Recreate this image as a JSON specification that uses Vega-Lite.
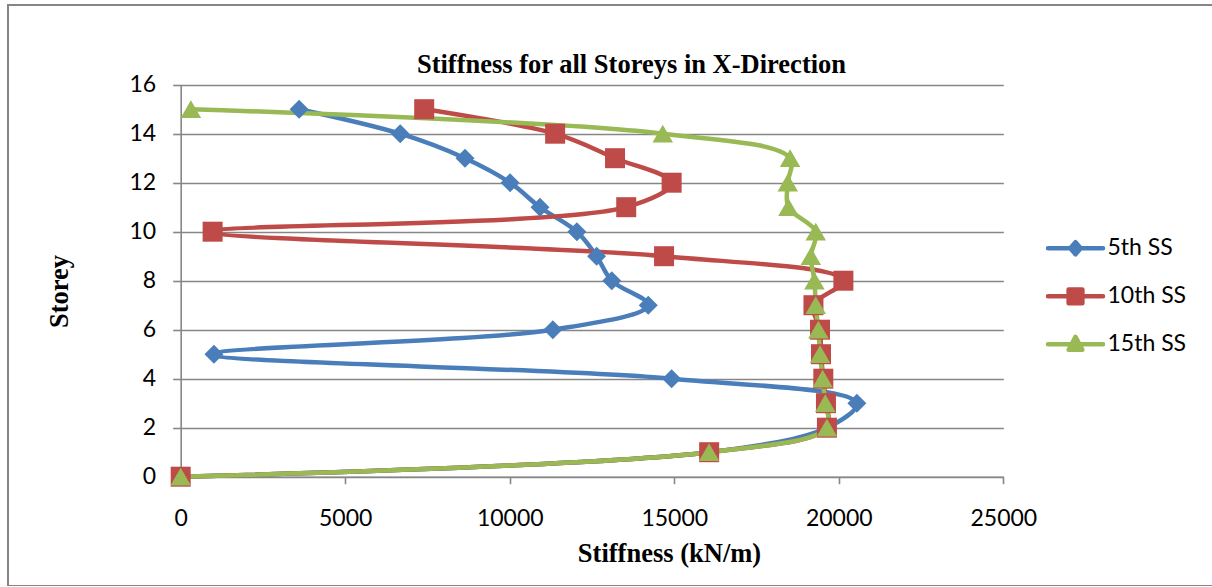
{
  "$schema": "https://vega.github.io/schema/vega-lite/v6.json",
  "width": 1205,
  "height": 581,
  "autosize": "none",
  "padding": {"left": 8, "top": 5, "right": 0, "bottom": 0},
  "background": "white",
  "config": {
    "view": {"stroke": "#868686", "strokeWidth": 2}
  },
  "title": {
    "text": "Stiffness for all Storeys in X-Direction",
    "font": "Liberation Serif",
    "fontSize": 26.5,
    "fontWeight": "bold",
    "color": "black",
    "anchor": "middle",
    "baseline": "alphabetic",
    "offset": -94,
    "dx": 21
  },
  "data": {
    "values": [
      {"series": "5th SS", "storey": 0, "stiffness": 0},
      {"series": "5th SS", "storey": 1, "stiffness": 16060},
      {"series": "5th SS", "storey": 2, "stiffness": 19640},
      {"series": "5th SS", "storey": 3, "stiffness": 20550},
      {"series": "5th SS", "storey": 4, "stiffness": 14920},
      {"series": "5th SS", "storey": 5, "stiffness": 1010},
      {"series": "5th SS", "storey": 6, "stiffness": 11310},
      {"series": "5th SS", "storey": 7, "stiffness": 14210},
      {"series": "5th SS", "storey": 8, "stiffness": 13100},
      {"series": "5th SS", "storey": 9, "stiffness": 12640},
      {"series": "5th SS", "storey": 10, "stiffness": 12040},
      {"series": "5th SS", "storey": 11, "stiffness": 10920},
      {"series": "5th SS", "storey": 12, "stiffness": 10010},
      {"series": "5th SS", "storey": 13, "stiffness": 8640},
      {"series": "5th SS", "storey": 14, "stiffness": 6670},
      {"series": "5th SS", "storey": 15, "stiffness": 3600},
      {"series": "10th SS", "storey": 0, "stiffness": 0},
      {"series": "10th SS", "storey": 1, "stiffness": 16060},
      {"series": "10th SS", "storey": 2, "stiffness": 19640},
      {"series": "10th SS", "storey": 3, "stiffness": 19610},
      {"series": "10th SS", "storey": 4, "stiffness": 19530},
      {"series": "10th SS", "storey": 5, "stiffness": 19460},
      {"series": "10th SS", "storey": 6, "stiffness": 19430},
      {"series": "10th SS", "storey": 7, "stiffness": 19230},
      {"series": "10th SS", "storey": 8, "stiffness": 20140},
      {"series": "10th SS", "storey": 9, "stiffness": 14690},
      {"series": "10th SS", "storey": 10, "stiffness": 970},
      {"series": "10th SS", "storey": 11, "stiffness": 13540},
      {"series": "10th SS", "storey": 12, "stiffness": 14920},
      {"series": "10th SS", "storey": 13, "stiffness": 13200},
      {"series": "10th SS", "storey": 14, "stiffness": 11380},
      {"series": "10th SS", "storey": 15, "stiffness": 7400},
      {"series": "15th SS", "storey": 0, "stiffness": 0},
      {"series": "15th SS", "storey": 1, "stiffness": 16060},
      {"series": "15th SS", "storey": 2, "stiffness": 19640},
      {"series": "15th SS", "storey": 3, "stiffness": 19590},
      {"series": "15th SS", "storey": 4, "stiffness": 19510},
      {"series": "15th SS", "storey": 5, "stiffness": 19430},
      {"series": "15th SS", "storey": 6, "stiffness": 19380},
      {"series": "15th SS", "storey": 7, "stiffness": 19300},
      {"series": "15th SS", "storey": 8, "stiffness": 19260},
      {"series": "15th SS", "storey": 9, "stiffness": 19150},
      {"series": "15th SS", "storey": 10, "stiffness": 19300},
      {"series": "15th SS", "storey": 11, "stiffness": 18470},
      {"series": "15th SS", "storey": 12, "stiffness": 18450},
      {"series": "15th SS", "storey": 13, "stiffness": 18520},
      {"series": "15th SS", "storey": 14, "stiffness": 14650},
      {"series": "15th SS", "storey": 15, "stiffness": 310}
    ]
  },
  "encoding": {
    "x": {
      "field": "stiffness",
      "type": "quantitative",
      "scale": {"domain": [0, 25000], "range": [172.7, 995.3], "nice": false},
      "axis": {
        "values": [0, 5000, 10000, 15000, 20000, 25000],
        "format": "d",
        "grid": false,
        "offset": -109.3,
        "domainColor": "#868686",
        "domainWidth": 1.6,
        "tickColor": "#868686",
        "tickWidth": 1.6,
        "tickSize": 7,
        "labelFont": "Lato",
        "labelFontSize": 23,
        "labelColor": "black",
        "labelPadding": 24,
        "labelOverlap": false,
        "labelFlush": false,
        "title": "Stiffness (kN/m)",
        "titleFont": "Liberation Serif",
        "titleFontSize": 26.5,
        "titleFontWeight": "bold",
        "titleColor": "black",
        "titleX": 661,
        "titleY": 85,
        "titleAlign": "center",
        "titleBaseline": "alphabetic"
      }
    },
    "y": {
      "field": "storey",
      "type": "quantitative",
      "scale": {"domain": [0, 16], "range": [471.7, 79.7], "nice": false},
      "axis": {
        "values": [0, 2, 4, 6, 8, 10, 12, 14, 16],
        "grid": true,
        "gridColor": "#868686",
        "gridWidth": 1.6,
        "offset": -172.7,
        "domainColor": "#868686",
        "domainWidth": 1.6,
        "tickColor": "#868686",
        "tickWidth": 1.6,
        "tickSize": 8,
        "labelFont": "Lato",
        "labelFontSize": 23,
        "labelColor": "black",
        "labelPadding": 17,
        "labelOverlap": false,
        "labelFlush": false,
        "title": "Storey",
        "titleFont": "Liberation Serif",
        "titleFontSize": 26.5,
        "titleFontWeight": "bold",
        "titleColor": "black",
        "titleAngle": -90,
        "titleX": -113.7,
        "titleY": 286,
        "titleAlign": "center",
        "titleBaseline": "alphabetic"
      }
    }
  },
  "layer": [
    {
      "mark": {
        "type": "line",
        "interpolate": "catmull-rom",
        "strokeWidth": 4.5,
        "strokeCap": "round",
        "strokeJoin": "round"
      },
      "encoding": {
        "order": {"field": "storey", "type": "quantitative"},
        "color": {
          "field": "series",
          "type": "nominal",
          "scale": {
            "domain": ["5th SS", "10th SS", "15th SS"],
            "range": ["#4A7EBB", "#BE4B48", "#98B954"]
          },
          "legend": {
            "title": null,
            "orient": "none",
            "legendX": 1037.5,
            "legendY": 219.3,
            "padding": 0,
            "offset": 0,
            "symbolSize": 3025,
            "symbolStrokeWidth": 4.5,
            "clipHeight": 48,
            "rowPadding": 0,
            "labelFont": "Lato",
            "labelFontSize": 23,
            "labelColor": "black",
            "labelOffset": 2,
            "labelBaseline": "middle",
            "encode": {
              "symbols": {
                "update": {
                  "shape": {"signal": "datum.value === '5th SS' ? 'M-1,0H1M0,-0.22L0.19,0L0,0.22L-0.19,0Z' : datum.value === '10th SS' ? 'M-1,0H1M-0.25,-0.25H0.25V0.25H-0.25Z' : 'M-1,0H1M0,-0.27L0.25,0.2L-0.25,0.2Z'"},
                  "size": {"value": 3025},
                  "fill": {"signal": "datum.value === '5th SS' ? '#4A7EBB' : datum.value === '10th SS' ? '#BE4B48' : '#98B954'"},
                  "stroke": {"signal": "datum.value === '5th SS' ? '#4A7EBB' : datum.value === '10th SS' ? '#BE4B48' : '#98B954'"},
                  "strokeWidth": {"value": 4.5},
                  "strokeCap": {"value": "round"},
                  "strokeJoin": {"value": "round"},
                  "opacity": {"value": 1},
                  "fillOpacity": {"value": 1}
                }
              }
            }
          }
        }
      }
    },
    {
      "transform": [{"filter": {"field": "series", "equal": "5th SS"}}],
      "mark": {"type": "point", "shape": "diamond", "filled": true, "opacity": 1, "size": 360, "color": "#4A7EBB"}
    },
    {
      "transform": [{"filter": {"field": "series", "equal": "10th SS"}}],
      "mark": {"type": "point", "shape": "square", "filled": true, "opacity": 1, "size": 400, "color": "#BE4B48"}
    },
    {
      "transform": [{"filter": {"field": "series", "equal": "15th SS"}}],
      "mark": {"type": "point", "shape": "triangle-up", "filled": true, "opacity": 1, "size": 420, "color": "#98B954"}
    }
  ]
}
